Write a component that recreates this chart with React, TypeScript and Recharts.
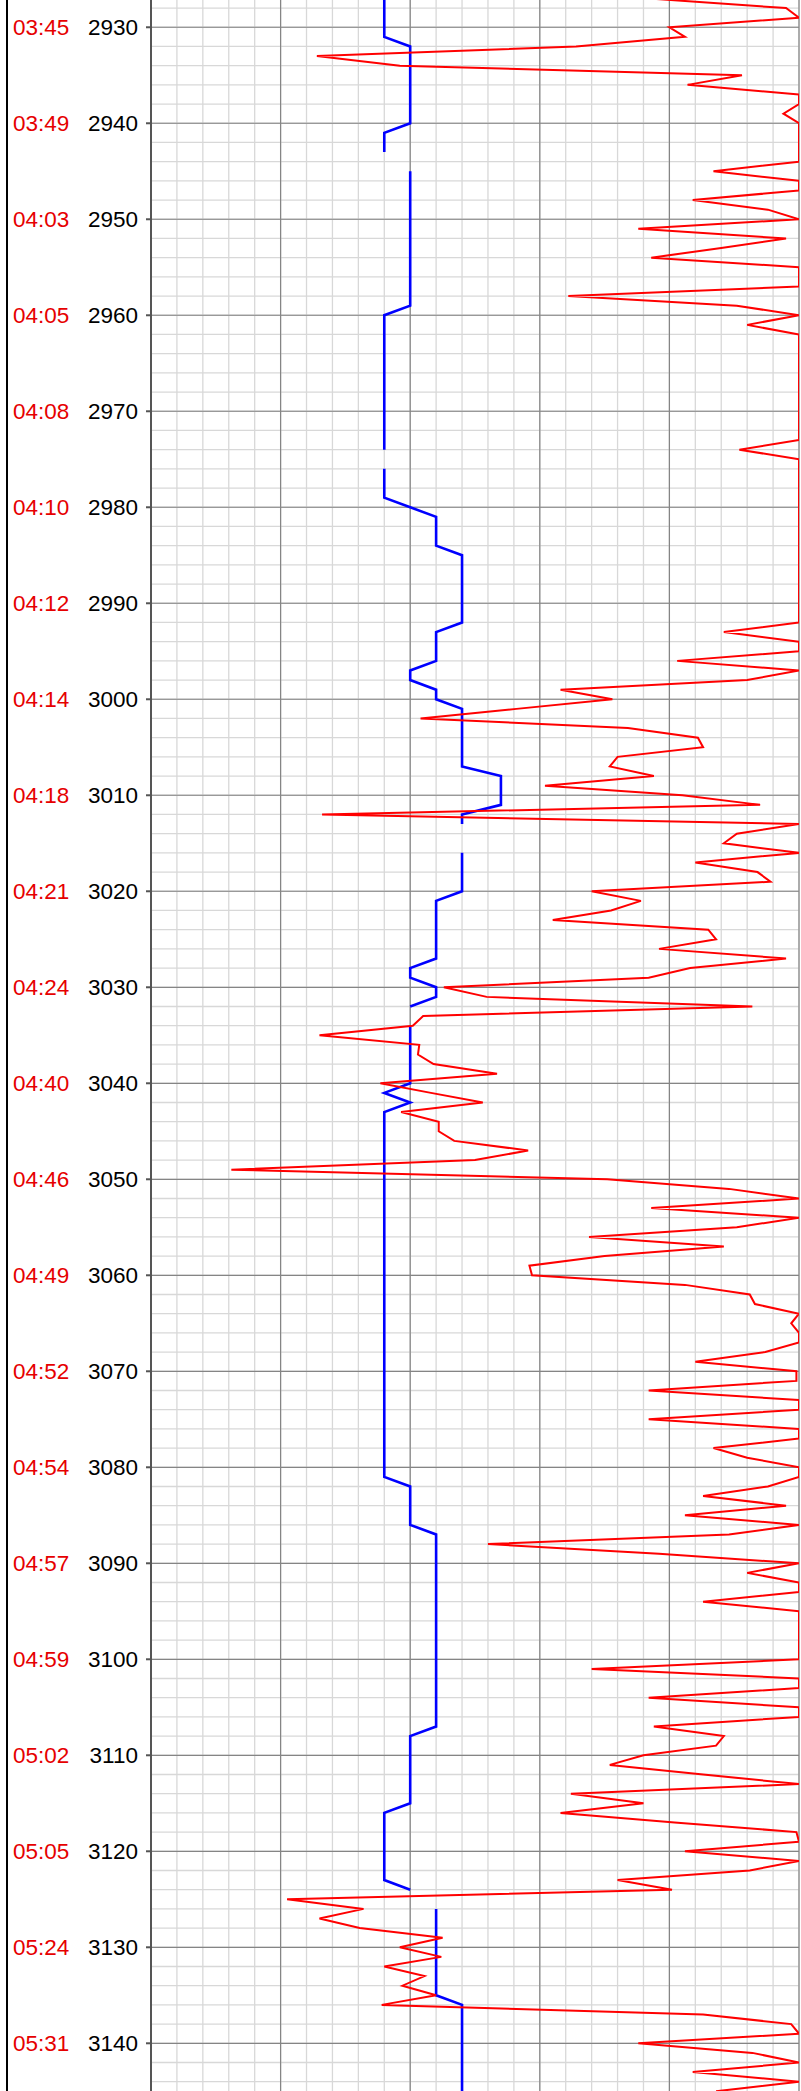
import React from 'react';
import { LineChart, Line, XAxis, YAxis, CartesianGrid } from 'recharts';

// depth (m), one reading per metre
const depths = [
  2926, 2927, 2928, 2929, 2930, 2931, 2932, 2933, 2934, 2935,
  2936, 2937, 2938, 2939, 2940, 2941, 2942, 2943, 2944, 2945,
  2946, 2947, 2948, 2949, 2950, 2951, 2952, 2953, 2954, 2955,
  2956, 2957, 2958, 2959, 2960, 2961, 2962, 2963, 2964, 2965,
  2966, 2967, 2968, 2969, 2970, 2971, 2972, 2973, 2974, 2975,
  2976, 2977, 2978, 2979, 2980, 2981, 2982, 2983, 2984, 2985,
  2986, 2987, 2988, 2989, 2990, 2991, 2992, 2993, 2994, 2995,
  2996, 2997, 2998, 2999, 3000, 3001, 3002, 3003, 3004, 3005,
  3006, 3007, 3008, 3009, 3010, 3011, 3012, 3013, 3014, 3015,
  3016, 3017, 3018, 3019, 3020, 3021, 3022, 3023, 3024, 3025,
  3026, 3027, 3028, 3029, 3030, 3031, 3032, 3033, 3034, 3035,
  3036, 3037, 3038, 3039, 3040, 3041, 3042, 3043, 3044, 3045,
  3046, 3047, 3048, 3049, 3050, 3051, 3052, 3053, 3054, 3055,
  3056, 3057, 3058, 3059, 3060, 3061, 3062, 3063, 3064, 3065,
  3066, 3067, 3068, 3069, 3070, 3071, 3072, 3073, 3074, 3075,
  3076, 3077, 3078, 3079, 3080, 3081, 3082, 3083, 3084, 3085,
  3086, 3087, 3088, 3089, 3090, 3091, 3092, 3093, 3094, 3095,
  3096, 3097, 3098, 3099, 3100, 3101, 3102, 3103, 3104, 3105,
  3106, 3107, 3108, 3109, 3110, 3111, 3112, 3113, 3114, 3115,
  3116, 3117, 3118, 3119, 3120, 3121, 3122, 3123, 3124, 3125,
  3126, 3127, 3128, 3129, 3130, 3131, 3132, 3133, 3134, 3135,
  3136, 3137, 3138, 3139, 3140, 3141, 3142, 3143, 3144, 3145,
];

// red trace, in grid divisions (0..25, clipped at the right edge)
const redTrace = [
  23, 19.2, 24.5, 25, 20, 20.6, 16.4, 6.4, 9.6, 22.8,
  20.7, 25, 25, 24.4, 25, 25, 25, 25, 25, 21.7,
  25, 25, 20.9, 23.8, 25, 18.8, 24.5, 22, 19.3, 25,
  25, 25, 16.1, 22.6, 25, 23, 25, 25, 25, 25,
  25, 25, 25, 25, 25, 25, 25, 25, 22.7, 25,
  25, 25, 25, 25, 25, 25, 25, 25, 25, 25,
  25, 25, 25, 25, 25, 25, 25, 22.1, 25, 25,
  20.3, 25, 23, 15.8, 17.8, 14.1, 10.4, 18.4, 21.1, 21.3,
  18, 17.7, 19.4, 15.2, 20.5, 23.5, 6.6, 25, 22.6, 22.1,
  25, 21, 23.4, 23.9, 17, 18.9, 17.75, 15.5, 21.5, 21.8,
  19.6, 24.5, 20.8, 19.2, 11.3, 12.95, 23.2, 10.5, 10.1, 6.5,
  10.35, 10.3, 10.9, 13.35, 8.85, 10.8, 12.8, 9.65, 11.1, 11.1,
  11.7, 14.55, 12.5, 3.1, 17.6, 22.3, 25, 19.3, 25, 22.6,
  16.9, 22.1, 17.5, 14.6, 14.7, 20.6, 23.1, 23.3, 25, 24.7,
  25, 25, 23.7, 21, 24.9, 24.9, 19.2, 25, 25, 19.2,
  25, 25, 21.7, 23, 25, 25, 23.8, 21.3, 24.5, 20.6,
  25, 22.3, 13, 19.6, 25, 23, 25, 25, 21.3, 25,
  25, 25, 25, 25, 25, 17, 25, 25, 19.2, 25,
  25, 19.4, 22.1, 21.8, 19, 17.7, 21.3, 25, 16.2, 19,
  15.8, 20.2, 24.9, 25, 20.6, 25, 23.1, 18, 20.1, 5.25,
  8.2, 6.5, 8.05, 11.25, 9.6, 11.2, 9, 10.55, 9.7, 11,
  8.9, 21.3, 24.7, 25, 18.8, 23.2, 25, 20.9, 25, 21.8,
];

// blue trace, null = no reading
const blueTrace = [
  9, 9, 9, 9, 9, 9, 10, 10, 10, 10,
  10, 10, 10, 10, 10, 9, 9, 9, null, 10,
  10, 10, 10, 10, 10, 10, 10, 10, 10, 10,
  10, 10, 10, 10, 9, 9, 9, 9, 9, 9,
  9, 9, 9, 9, 9, 9, 9, 9, 9, null,
  9, 9, 9, 9, 10, 11, 11, 11, 11, 12,
  12, 12, 12, 12, 12, 12, 12, 11, 11, 11,
  11, 10, 10, 11, 11, 12, 12, 12, 12, 12,
  12, 12, 13.5, 13.5, 13.5, 13.5, 12, 12, null, null,
  12, 12, 12, 12, 12, 11, 11, 11, 11, 11,
  11, 11, 10, 10, 11, 11, 10, null, 10, 10,
  10, 10, 10, 10, 10, 9, 10, 9, 9, 9,
  9, 9, 9, 9, 9, 9, 9, 9, 9, 9,
  9, 9, 9, 9, 9, 9, 9, 9, 9, 9,
  9, 9, 9, 9, 9, 9, 9, 9, 9, 9,
  9, 9, 9, 9, 9, 9, 10, 10, 10, 10,
  10, 11, 11, 11, 11, 11, 11, 11, 11, 11,
  11, 11, 11, 11, 11, 11, 11, 11, 11, 11,
  11, 11, 10, 10, 10, 10, 10, 10, 10, 10,
  9, 9, 9, 9, 9, 9, 9, 9, 10, null,
  11, 11, 11, 11, 11, 11, 11, 11, 11, 11,
  12, 12, 12, 12, 12, 12, 12, 12, 12, 12,
];

const depthTicks = [
  2930, 2940, 2950, 2960, 2970, 2980, 2990, 3000, 3010, 3020, 3030,
  3040, 3050, 3060, 3070, 3080, 3090, 3100, 3110, 3120, 3130, 3140,
];
const timeLabels = [
  '03:45', '03:49', '04:03', '04:05', '04:08', '04:10', '04:12', '04:14', '04:18', '04:21', '04:24',
  '04:40', '04:46', '04:49', '04:52', '04:54', '04:57', '04:59', '05:02', '05:05', '05:24', '05:31',
];

const depthDomain = [2927.16, 3144.97];
const valueDomain = [0, 25];

const majorX = [0, 5, 10, 15, 20, 25];
const minorX: number[] = [];
for (let v = 0; v <= 25; v++) minorX.push(v);
const minorDepth: number[] = [];
for (let d = 2928; d <= 3144; d += 2) minorDepth.push(d);

const redData = depths.map((depth, i) => ({ depth, red: redTrace[i] }));

// blue has gaps: split it into continuous runs, one Line each
const blueSegments: { depth: number; blue: number }[][] = [];
let run: { depth: number; blue: number }[] = [];
depths.forEach((depth, i) => {
  const v = blueTrace[i];
  if (v == null) {
    if (run.length) blueSegments.push(run);
    run = [];
  } else {
    run.push({ depth, blue: v });
  }
});
if (run.length) blueSegments.push(run);

const FONT = '"Liberation Sans", Arial, sans-serif';

const xGen = (vals: number[]) => ({ xAxis, offset }: any) =>
  vals.map(v =>
    xAxis && typeof xAxis.scale === 'function'
      ? xAxis.scale(v)
      : offset.left + ((v - valueDomain[0]) / (valueDomain[1] - valueDomain[0])) * offset.width
  );

const yGen = (vals: number[]) => ({ yAxis, offset }: any) =>
  vals.map(v =>
    yAxis && typeof yAxis.scale === 'function'
      ? yAxis.scale(v)
      : offset.top + ((v - depthDomain[0]) / (depthDomain[1] - depthDomain[0])) * offset.height
  );

const DepthTick = (props: any) => {
  const { x, y, payload } = props;
  const idx = depthTicks.indexOf(payload.value);
  return (
    <g>
      <text x={x - 125} y={y} dy="0.36em" fill="#e60000" fontSize={22.5} fontFamily={FONT} textAnchor="start">
        {timeLabels[idx]}
      </text>
      <text x={x} y={y} dy="0.36em" fill="#000" fontSize={22.5} fontFamily={FONT} textAnchor="end">
        {payload.value}
      </text>
    </g>
  );
};

export default function App() {
  return (
    <div style={{ position: 'absolute', left: 0, top: 0, width: 801, height: 2091, background: '#fff', overflow: 'hidden' }}>
      <div style={{ position: 'absolute', left: 6, top: 0, width: 2, height: 2091, background: '#000' }} />
      <LineChart
        width={801}
        height={2091}
        data={redData}
        layout="vertical"
        margin={{ top: 0, right: 2, bottom: 0, left: 0 }}
      >
        <CartesianGrid
          stroke="#d8d8d8"
          strokeWidth={1.3}
          horizontalCoordinatesGenerator={yGen(minorDepth)}
          verticalCoordinatesGenerator={xGen(minorX)}
        />
        <CartesianGrid
          stroke="#858585"
          strokeWidth={1.2}
          horizontalCoordinatesGenerator={yGen(depthTicks)}
          verticalCoordinatesGenerator={xGen(majorX)}
        />
        <XAxis type="number" domain={valueDomain} hide height={0} allowDataOverflow />
        <YAxis
          type="number"
          dataKey="depth"
          domain={depthDomain}
          allowDataOverflow
          ticks={depthTicks}
          interval={0}
          width={151}
          tickSize={5}
          tickMargin={8}
          axisLine={{ stroke: '#555', strokeWidth: 2 }}
          tickLine={{ stroke: '#555', strokeWidth: 2 }}
          tick={<DepthTick />}
        />
        {blueSegments.map((seg, i) => (
          <Line
            key={`blue-${i}`}
            data={seg}
            dataKey="blue"
            stroke="#0000ff"
            strokeWidth={2.6}
            dot={false}
            isAnimationActive={false}
          />
        ))}
        <Line dataKey="red" stroke="#ff0000" strokeWidth={2} dot={false} isAnimationActive={false} />
      </LineChart>
    </div>
  );
}
